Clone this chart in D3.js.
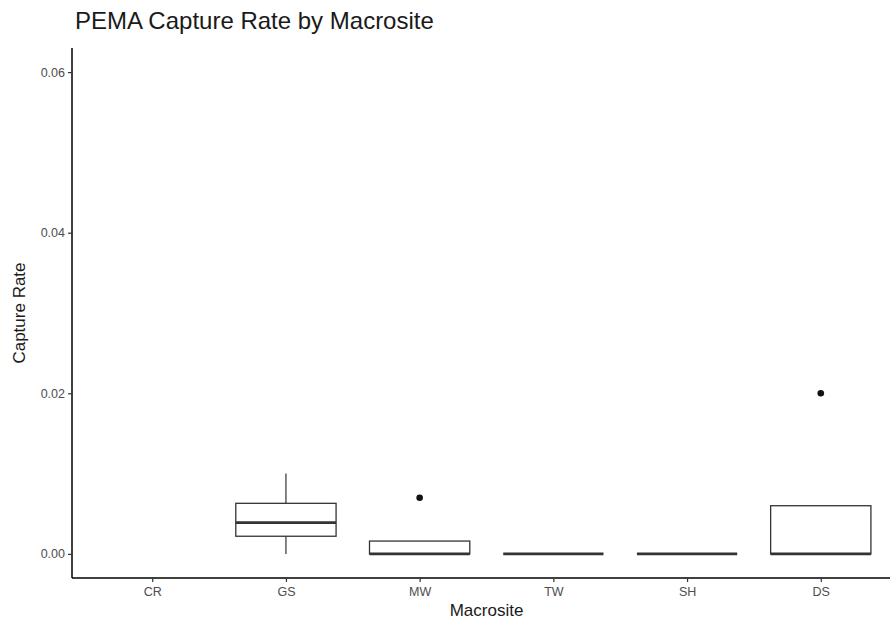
<!DOCTYPE html>
<html>
<head>
<meta charset="utf-8">
<script src="https://cdn.jsdelivr.net/npm/d3@7"></script>
<style>
  html, body { margin: 0; padding: 0; background: #fff; }
  svg { display: block; font-family: "Liberation Sans", Arial, sans-serif; }
</style>
</head>
<body>
<svg id="chart" width="890" height="623"></svg>
<script>
// Capture rate summaries per macrosite
const categories   = ["CR", "GS", "MW", "TW", "SH", "DS"];
const whiskerLow   = [null, 0.000, 0.000, 0.000, 0.000, 0.000];
const q1           = [null, 0.0022, 0.000, 0.000, 0.000, 0.000];
const median       = [null, 0.0039, 0.000, 0.000, 0.000, 0.000];
const q3           = [null, 0.0063, 0.0016, 0.000, 0.000, 0.006];
const whiskerHigh  = [null, 0.010, 0.0016, 0.000, 0.000, 0.006];
const outlierSite  = ["MW", "DS"];
const outlierValue = [0.007, 0.020];
const yTicks       = [0.00, 0.02, 0.04, 0.06];
const yTickLabels  = ["0.00", "0.02", "0.04", "0.06"];

const svg = d3.select("#chart");
const panel = { left: 72, right: 901, top: 48, bottom: 578 };

// discrete scale with ggplot-style 0.6 expansion on each side
const x = d3.scalePoint()
  .domain(categories)
  .range([panel.left, panel.right])
  .padding(0.6);
const step = x.step();
const boxW = step * 0.75;

const y = d3.scaleLinear()
  .domain([-0.003, 0.063])
  .range([panel.bottom, panel.top]);

// title
svg.append("text")
  .attr("x", 75).attr("y", 29)
  .attr("font-size", 24)
  .attr("fill", "#1a1a1a")
  .text("PEMA Capture Rate by Macrosite");

// boxes
const rows = categories.map((c, i) => ({
  c, lo: whiskerLow[i], q1: q1[i], med: median[i], q3: q3[i], hi: whiskerHigh[i]
})).filter(d => d.med !== null);

const g = svg.append("g");
rows.forEach(d => {
  const cx = x(d.c);
  // whiskers
  if (d.hi > d.q3) {
    g.append("line").attr("x1", cx).attr("x2", cx)
      .attr("y1", y(d.q3)).attr("y2", y(d.hi))
      .attr("stroke", "#333").attr("stroke-width", 1.2);
  }
  if (d.lo < d.q1) {
    g.append("line").attr("x1", cx).attr("x2", cx)
      .attr("y1", y(d.q1)).attr("y2", y(d.lo))
      .attr("stroke", "#333").attr("stroke-width", 1.2);
  }
  // box
  g.append("rect")
    .attr("x", cx - boxW / 2)
    .attr("y", y(d.q3))
    .attr("width", boxW)
    .attr("height", Math.max(0, y(d.q1) - y(d.q3)))
    .attr("fill", "#fff")
    .attr("stroke", "#333")
    .attr("stroke-width", 1.3);
  // median
  g.append("line")
    .attr("x1", cx - boxW / 2).attr("x2", cx + boxW / 2)
    .attr("y1", y(d.med)).attr("y2", y(d.med))
    .attr("stroke", "#333").attr("stroke-width", 2.8);
});

// outliers
outlierSite.forEach((s, i) => {
  g.append("circle")
    .attr("cx", x(s)).attr("cy", y(outlierValue[i]))
    .attr("r", 3.3).attr("fill", "#111");
});

// y axis
const yAxis = d3.axisLeft(y)
  .tickValues(yTicks)
  .tickFormat((d, i) => yTickLabels[i])
  .tickSize(4).tickPadding(3);
const ya = svg.append("g")
  .attr("transform", `translate(${panel.left},0)`)
  .call(yAxis);
ya.select(".domain").attr("d", `M0,${panel.top}V${panel.bottom}`)
  .attr("stroke", "#000").attr("stroke-width", 1.5);
ya.selectAll(".tick line").attr("stroke", "#333").attr("stroke-width", 1.2);
ya.selectAll(".tick text").attr("fill", "#4d4d4d")
  .attr("font-size", 12.5)
  .attr("font-family", "Liberation Sans, Arial, sans-serif");

// x axis
const xAxis = d3.axisBottom(x).tickSize(4).tickPadding(5);
const xa = svg.append("g")
  .attr("transform", `translate(0,${panel.bottom})`)
  .call(xAxis);
xa.select(".domain").attr("d", `M${panel.left},0H${panel.right}`)
  .attr("stroke", "#000").attr("stroke-width", 1.5);
xa.selectAll(".tick line").attr("stroke", "#333").attr("stroke-width", 1.2);
xa.selectAll(".tick text").attr("fill", "#4d4d4d")
  .attr("font-size", 12.5)
  .attr("font-family", "Liberation Sans, Arial, sans-serif");

// axis titles
svg.append("text")
  .attr("x", (panel.left + panel.right) / 2).attr("y", 616)
  .attr("text-anchor", "middle")
  .attr("font-size", 17).attr("fill", "#1a1a1a")
  .text("Macrosite");

svg.append("text")
  .attr("transform", `translate(25,${(panel.top + panel.bottom) / 2}) rotate(-90)`)
  .attr("text-anchor", "middle")
  .attr("font-size", 17).attr("fill", "#1a1a1a")
  .text("Capture Rate");
</script>
</body>
</html>
